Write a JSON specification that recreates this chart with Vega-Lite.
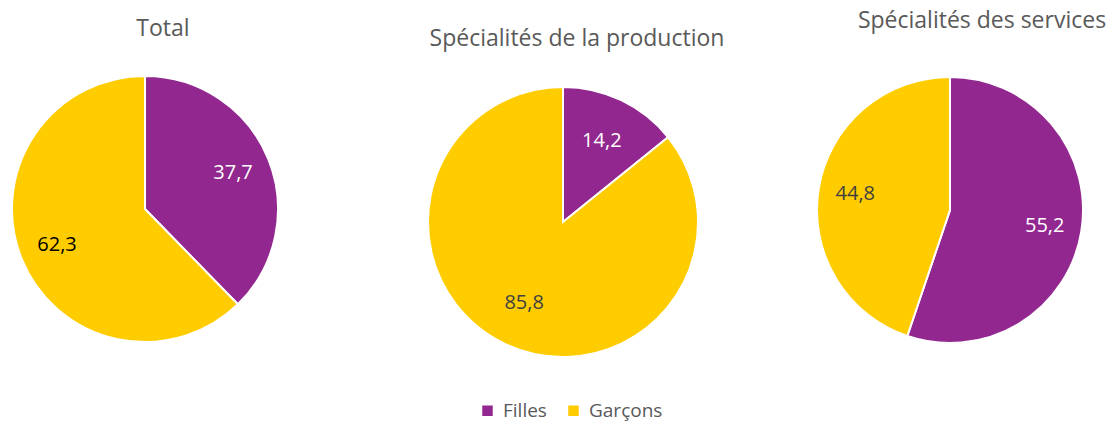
{
  "$schema": "https://vega.github.io/schema/vega-lite/v6.json",
  "background": "white",
  "padding": {"top": 10, "left": 0, "right": 0, "bottom": 4},
  "spacing": 0,
  "bounds": "flush",
  "data": {
    "values": [
      {"chart": "Total", "sexe": "Filles", "value": 37.7},
      {"chart": "Total", "sexe": "Garçons", "value": 62.3},
      {"chart": "Production", "sexe": "Filles", "value": 14.2},
      {"chart": "Production", "sexe": "Garçons", "value": 85.8},
      {"chart": "Services", "sexe": "Filles", "value": 55.2},
      {"chart": "Services", "sexe": "Garçons", "value": 44.8}
    ]
  },
  "config": {
    "view": {"stroke": null},
    "font": "Open Sans",
    "locale": {"number": {"decimal": ",", "thousands": " ", "grouping": [3], "currency": ["", " €"]}},
    "title": {"fontSize": 23, "fontWeight": "normal", "color": "#595959", "font": "Open Sans"}
  },
  "resolve": {"scale": {"theta": "independent"}},
  "hconcat": [
    {
      "width": 290,
      "height": 298,
      "title": {"text": "Total", "offset": 19, "dx": 18},
      "transform": [{"filter": "datum.chart === 'Total'"}],
      "encoding": {
        "theta": {"field": "value", "type": "quantitative", "stack": true},
        "order": {"field": "sexe", "type": "ordinal", "sort": "ascending"}
      },
      "layer": [
        {
          "mark": {"type": "arc", "outerRadius": 133, "stroke": "white", "strokeWidth": 2},
          "encoding": {
            "color": {
              "field": "sexe", "type": "nominal",
              "scale": {"domain": ["Filles", "Garçons"], "range": ["#92278F", "#FFCC00"]},
              "legend": {
                "title": null, "orient": "none", "direction": "horizontal",
                "legendX": 478, "legendY": 341,
                "symbolType": "square", "symbolSize": 110, "symbolStrokeWidth": 0,
                "labelFontSize": 19, "labelColor": "#595959", "labelFont": "Open Sans",
                "columnPadding": 17, "labelOffset": 6
              }
            }
          }
        },
        {
          "mark": {"type": "text", "radius": 95, "fontSize": 20, "align": "center", "baseline": "middle"},
          "encoding": {
            "text": {"field": "value", "type": "quantitative", "format": ".1f"},
            "color": {"condition": {"test": "datum.sexe === 'Filles'", "value": "white"}, "value": "#000000"}
          }
        }
      ]
    },
    {
      "width": 546,
      "height": 324,
      "title": {"text": "Spécialités de la production", "offset": 9, "dx": 14},
      "transform": [{"filter": "datum.chart === 'Production'"}],
      "encoding": {
        "theta": {"field": "value", "type": "quantitative", "stack": true},
        "order": {"field": "sexe", "type": "ordinal", "sort": "ascending"}
      },
      "layer": [
        {
          "mark": {"type": "arc", "outerRadius": 135, "stroke": "white", "strokeWidth": 2},
          "encoding": {
            "color": {"field": "sexe", "type": "nominal"}
          }
        },
        {
          "mark": {"type": "text", "radius": 90, "fontSize": 20, "align": "center", "baseline": "middle"},
          "encoding": {
            "text": {"field": "value", "type": "quantitative", "format": ".1f"},
            "color": {"condition": {"test": "datum.sexe === 'Filles'", "value": "white"}, "value": "#404040"}
          }
        }
      ]
    },
    {
      "width": 228,
      "height": 300,
      "title": {"text": "Spécialités des services", "offset": 27, "dx": 32},
      "transform": [{"filter": "datum.chart === 'Services'"}],
      "encoding": {
        "theta": {"field": "value", "type": "quantitative", "stack": true},
        "order": {"field": "sexe", "type": "ordinal", "sort": "ascending"}
      },
      "layer": [
        {
          "mark": {"type": "arc", "outerRadius": 133, "stroke": "white", "strokeWidth": 2},
          "encoding": {
            "color": {"field": "sexe", "type": "nominal"}
          }
        },
        {
          "mark": {"type": "text", "radius": 96, "fontSize": 20, "align": "center", "baseline": "middle"},
          "encoding": {
            "text": {"field": "value", "type": "quantitative", "format": ".1f"},
            "color": {"condition": {"test": "datum.sexe === 'Filles'", "value": "white"}, "value": "#404040"}
          }
        }
      ]
    }
  ]
}
